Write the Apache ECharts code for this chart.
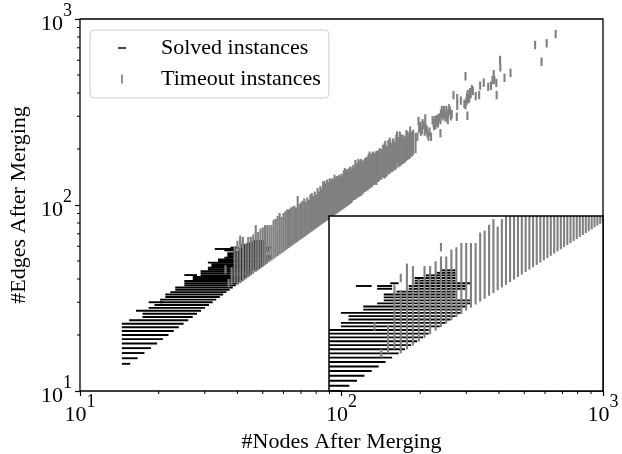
<!DOCTYPE html>
<html><head><meta charset="utf-8">
<style>html,body{margin:0;padding:0;background:#fff}#c{width:622px;height:454px}</style>
<script src="https://cdn.jsdelivr.net/npm/echarts@6/dist/echarts.min.js"></script>
</head><body><div id="c"></div>
<script>
const xLabel = '#Nodes After Merging';
const yLabel = '#Edges After Merging';
const solvedName = 'Solved instances';
const timeoutName = 'Timeout instances';
const majorTicks = [10, 100, 1000];
const minorTicks = [20,30,40,50,60,70,80,90,200,300,400,500,600,700,800,900];
// [edges, nodes from, nodes to]
const solvedRows = [
[14,15,15],[15,15,16],[16,15,17],[17,15,18],[18,15,19],[19,15,20],[20,15,21],[21,15,22],[22,15,23],[23,15,24],
[24,16,25],[25,18,26],[26,18,27],[27,17,28],[28,19,29],[29,20,30],[30,19,20],[30,21,31],[31,21,32],[32,22,33],
[33,22,34],[34,23,35],[35,24,36],[36,24,37],[37,26,38],[38,26,39],[39,26,40],[40,28,41],[41,28,42],[42,26,27],
[42,30,43],[43,30,44],[44,30,44],[45,32,46],[46,32,47],[47,33,48],[48,33,49],[49,32,50],[50,35,50],[51,35,51],
[52,37,52],[53,38,52],[54,38,49],[55,38,49],[56,40,49],[57,37,38],[57,42,51],[58,34,35],[58,37,38],[58,42,51],
[59,39,39],[59,43,52],[60,43,49],[61,43,49],[62,45,49],[63,47,49],[64,48,49]];
// [nodes, edges from, edges to]
const timeoutColumns = [
[36,45,45],[37,38,38],[38,39,44],[39,40,57],[40,39,55],[40,61,61],[41,40,62],[41,65,65],[42,41,64],[43,42,59],
[44,43,64],[45,44,64],[46,45,66],[47,46,68],[47,74,74],[48,47,68],[49,48,71],[50,49,72],[51,50,74],[52,51,74],
[53,52,74],[54,53,74],[55,54,79],[56,55,80],[57,56,83],[58,57,86],[59,58,82],[60,59,86],[61,60,88],[62,61,90],
[63,62,90],[64,63,92],[65,64,93],[66,65,94],[67,66,92],[68,67,106],[69,68,96],[70,69,98],[71,70,100],[72,71,103],
[73,72,99],[74,73,104],[75,74,101],[76,75,108],[77,76,110],[78,77,106],[79,78,112],[80,79,108],[81,80,117],[82,81,112],
[83,82,120],[84,83,116],[85,84,127],[86,85,128],[87,86,124],[88,87,130],[89,88,126],[90,89,132],[91,90,130],[92,91,132],
[93,92,131],[94,93,138],[95,94,134],[96,95,136],[97,96,133],[98,97,138],[99,98,135],[100,99,140],[101,100,137],[102,101,146],
[103,102,150],[104,103,144],[105,104,148],[106,105,142],[107,106,150],[108,107,153],[109,108,146],[110,110,152],[111,112,156],[112,112,150],
[113,113,166],[114,114,158],[115,116,160],[116,116,168],[117,117,162],[118,118,165],[119,118,168],[120,122,160],[121,121,165],[122,124,162],
[123,124,170],[124,125,165],[125,127,173],[126,126,170],[127,129,178],[128,129,184],[129,130,176],[130,132,180],[131,132,175],[132,135,184],
[133,137,180],[134,135,178],[135,137,182],[136,135,186],[137,140,178],[138,140,185],[139,142,188],[140,144,192],[142,144,190],[144,148,200],
[146,146,204],[147,148,210],[149,150,198],[151,154,212],[153,155,219],[155,158,205],[157,159,214],[158,166,217],[160,162,208],[162,165,226],
[163,179,236],[165,168,220],[167,170,236],[169,172,228],[172,175,226],[175,178,222],[177,182,240],[179,184,236],[181,186,230],[183,188,251],
[186,192,236],[188,196,241],[192,200,232],
[195,233,233],[197,283,283],[198,258,258],[200,266,266],[201,248,248],[203,253,253],[204,275,275],[206,269,269],[208,248,248],[209,258,292],
[210,258,258],[212,253,253],[213,243,243],[215,233,233],[217,248,248],[220,233,233],[223,286,286],[225,275,275],[226,266,266],[228,286,286],
[229,270,270],[231,280,280],[232,290,290],[234,275,275],[236,295,295],[239,243,243],[239,286,286],[240,310,310],[242,324,324],[244,300,300],
[246,312,312],[247,324,324],[249,305,305],[250,295,295],[252,324,324],[253,300,300],[255,286,286],[256,310,310],[258,331,331],[260,320,320],
[262,300,300],[264,308,308],[268,390,390],[276,298,298],[277,342,342],[277,375,375],[286,364,364],[295,350,350],[298,345,345],[298,492,492],
[300,360,360],[302,382,382],[303,302,302],[304,395,395],[305,370,370],[308,375,375],[310,404,404],[312,395,395],[315,420,420],[318,410,410],
[326,385,385],[336,390,390],[339,438,438],[350,455,455],[364,432,432],[373,438,438],[378,470,470],[382,505,505],[384,470,470],[391,453,453],
[392,390,390],[404,602,602],[405,550,550],[420,483,483],[443,513,513],[550,725,725],[582,589,589],[609,740,740],[659,830,830]];

const font = '"Liberation Serif","Times New Roman",serif';
const black = '#000', gray = '#808080';
const powers = {10:'1',100:'2',1000:'3'};
const tickFmt = v => '{b|10}{s|' + powers[Math.round(v)] + '}';
const rich = {
  b:{fontFamily:font,fontSize:22,color:'#000',verticalAlign:'bottom',lineHeight:33},
  s:{fontFamily:font,fontSize:18,color:'#000',verticalAlign:'top',lineHeight:33}
};
function rowItem(params, api){
  const a = api.coord([api.value(1), api.value(0)]);
  const b = api.coord([api.value(2), api.value(0)]);
  const hw = 4.2, t = 1.9;
  return {type:'rect',shape:{x:a[0]-hw,y:a[1]-t/2,width:b[0]-a[0]+2*hw,height:t},style:{fill:black}};
}
function colItem(params, api){
  const a = api.coord([api.value(0), api.value(2)]);
  const b = api.coord([api.value(0), api.value(1)]);
  const hh = 4.2, t = 2.1;
  return {type:'rect',shape:{x:a[0]-t/2,y:a[1]-hh,width:t,height:b[1]-a[1]+2*hh},style:{fill:gray}};
}
function tickItem(len, isX){
  return function(params, api){
    const v = api.value(0);
    const p = isX ? api.coord([v,10]) : api.coord([10,v]);
    return {type:'line',shape: isX ? {x1:p[0],y1:p[1],x2:p[0],y2:p[1]+len} : {x1:p[0],y1:p[1],x2:p[0]-len,y2:p[1]},style:{stroke:'#000',lineWidth:1}};
  };
}
const chart = echarts.init(document.getElementById('c'),null,{renderer:'canvas'});
const axisBase = {type:'log',logBase:10,min:10,max:1000,splitLine:{show:false},
  axisLine:{show:false},
  axisTick:{show:true,length:5,lineStyle:{color:'#000',width:1.2}},
  minorTick:{show:false},
  nameTextStyle:{fontFamily:font,fontSize:22,color:'#000'},nameLocation:'middle'};
const hidden = {type:'log',logBase:10,min:30,max:90,show:false};
chart.setOption({
  animation:false,
  backgroundColor:'#fff',
  grid:[
    {left:80,right:19,top:19,bottom:63,show:true,borderColor:'#000',borderWidth:1.3,backgroundColor:'#fff',outerBoundsMode:'none'},
    {left:329,right:19,top:216,bottom:63,show:false,outerBoundsMode:'none'}
  ],
  xAxis:[
    Object.assign({},axisBase,{gridIndex:0,name:xLabel,nameGap:36,axisLabel:{formatter:tickFmt,rich:rich,margin:2,hideOverlap:false,showMinLabel:true,showMaxLabel:true}}),
    Object.assign({},hidden,{gridIndex:1})
  ],
  yAxis:[
    Object.assign({},axisBase,{gridIndex:0,name:yLabel,nameGap:34,axisLabel:{formatter:tickFmt,rich:rich,margin:8,showMinLabel:true,showMaxLabel:true}}),
    Object.assign({},hidden,{gridIndex:1})
  ],
  legend:{
    show:true,left:90,top:30,orient:'vertical',itemGap:9,
    padding:[7,8,8,28],itemWidth:8,itemHeight:9,
    backgroundColor:'rgba(255,255,255,0.8)',borderColor:'#ccc',borderWidth:1,borderRadius:4,
    data:[
      {name:solvedName,icon:'path://M0 0H8V1.5H0Z'},
      {name:timeoutName,icon:'path://M0 0H1.5V8H0Z'}
    ],
    textStyle:{fontFamily:font,fontSize:22,color:'#000',padding:[0,0,0,30]},
    selectedMode:false
  },
  series:[
    {type:'custom',name:solvedName,xAxisIndex:0,yAxisIndex:0,data:solvedRows,renderItem:rowItem,encode:{x:[1,2],y:0},itemStyle:{color:black},z:2,silent:true},
    {type:'custom',name:timeoutName,xAxisIndex:0,yAxisIndex:0,data:timeoutColumns,renderItem:colItem,encode:{x:0,y:[1,2]},itemStyle:{color:gray},z:3,silent:true},
    {type:'custom',xAxisIndex:0,yAxisIndex:0,data:minorTicks.map(v=>[v]),renderItem:tickItem(3,true),encode:{x:0},z:1,silent:true},
    {type:'custom',xAxisIndex:0,yAxisIndex:0,data:minorTicks.map(v=>[v]),renderItem:tickItem(3,false),encode:{y:0},z:1,silent:true},
    {type:'custom',xAxisIndex:1,yAxisIndex:1,data:[[30,30,90,90]],z:4,silent:true,
      renderItem:function(p,api){
        const a=api.coord([api.value(0),api.value(3)]),b=api.coord([api.value(2),api.value(1)]);
        return {type:'rect',shape:{x:a[0],y:a[1],width:b[0]-a[0],height:b[1]-a[1]},style:{fill:'#fff'}};
      },encode:{x:[0,2],y:[1,3]}},
    {type:'custom',name:solvedName+' (inset)',xAxisIndex:1,yAxisIndex:1,clip:true,data:solvedRows,renderItem:rowItem,encode:{x:[1,2],y:0},z:5,silent:true},
    {type:'custom',name:timeoutName+' (inset)',xAxisIndex:1,yAxisIndex:1,clip:true,data:timeoutColumns,renderItem:colItem,encode:{x:0,y:[1,2]},z:6,silent:true},
    {type:'custom',xAxisIndex:1,yAxisIndex:1,data:[[30,30,90,90]],z:7,silent:true,
      renderItem:function(p,api){
        const a=api.coord([api.value(0),api.value(3)]),b=api.coord([api.value(2),api.value(1)]);
        return {type:'rect',shape:{x:a[0],y:a[1],width:b[0]-a[0],height:b[1]-a[1]},style:{fill:'none',stroke:'#000',lineWidth:1.5}};
      },encode:{x:[0,2],y:[1,3]}}
  ]
});
</script></body></html>
